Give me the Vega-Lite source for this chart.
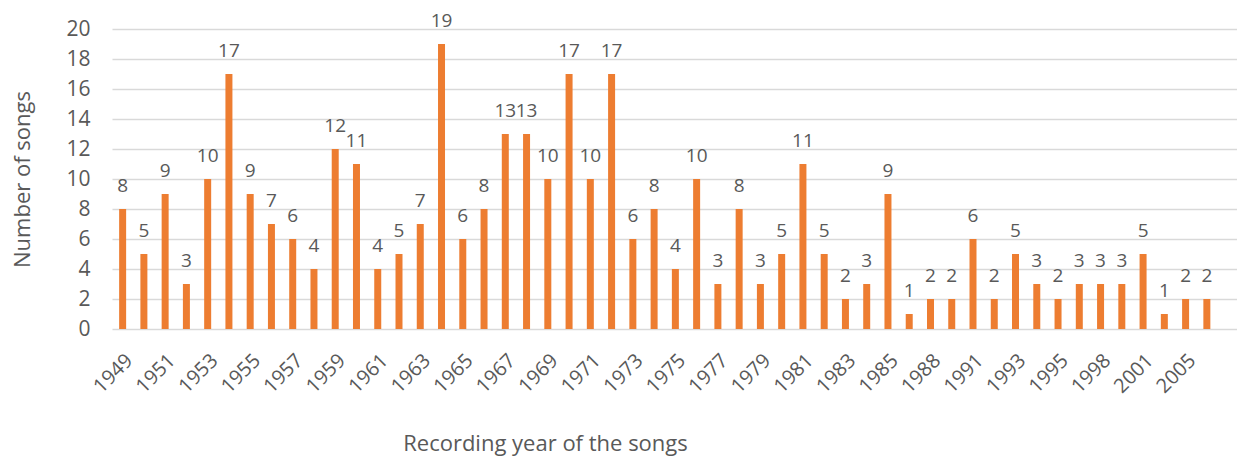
{
  "$schema": "https://vega.github.io/schema/vega-lite/v6.json",
  "autosize": {"type": "none"},
  "padding": {"left": 112, "top": 29, "right": 0, "bottom": 130},
  "width": 1125,
  "height": 300,
  "background": "white",
  "config": {"view": {"stroke": null}, "font": "Open Sans"},
  "data": {"values": [
    {"year": "1949", "songs": 8}, {"year": "1950", "songs": 5}, {"year": "1951", "songs": 9}, {"year": "1952", "songs": 3},
    {"year": "1953", "songs": 10}, {"year": "1954", "songs": 17}, {"year": "1955", "songs": 9}, {"year": "1956", "songs": 7},
    {"year": "1957", "songs": 6}, {"year": "1958", "songs": 4}, {"year": "1959", "songs": 12}, {"year": "1960", "songs": 11},
    {"year": "1961", "songs": 4}, {"year": "1962", "songs": 5}, {"year": "1963", "songs": 7}, {"year": "1964", "songs": 19},
    {"year": "1965", "songs": 6}, {"year": "1966", "songs": 8}, {"year": "1967", "songs": 13}, {"year": "1968", "songs": 13},
    {"year": "1969", "songs": 10}, {"year": "1970", "songs": 17}, {"year": "1971", "songs": 10}, {"year": "1972", "songs": 17},
    {"year": "1973", "songs": 6}, {"year": "1974", "songs": 8}, {"year": "1975", "songs": 4}, {"year": "1976", "songs": 10},
    {"year": "1977", "songs": 3}, {"year": "1978", "songs": 8}, {"year": "1979", "songs": 3}, {"year": "1980", "songs": 5},
    {"year": "1981", "songs": 11}, {"year": "1982", "songs": 5}, {"year": "1983", "songs": 2}, {"year": "1984", "songs": 3},
    {"year": "1985", "songs": 9}, {"year": "1987", "songs": 1}, {"year": "1988", "songs": 2}, {"year": "1989", "songs": 2},
    {"year": "1991", "songs": 6}, {"year": "1992", "songs": 2}, {"year": "1993", "songs": 5}, {"year": "1994", "songs": 3},
    {"year": "1995", "songs": 2}, {"year": "1996", "songs": 3}, {"year": "1998", "songs": 3}, {"year": "2000", "songs": 3},
    {"year": "2001", "songs": 5}, {"year": "2003", "songs": 1}, {"year": "2005", "songs": 2}, {"year": "2006", "songs": 2}
  ]},
  "encoding": {
    "x": {
      "field": "year", "type": "ordinal",
      "scale": {"paddingInner": 0, "paddingOuter": 0.459, "align": 0},
      "axis": {
        "values": ["1949","1951","1953","1955","1957","1959","1961","1963","1965","1967","1969","1971","1973","1975","1977","1979","1981","1983","1985","1988","1991","1993","1995","1998","2001","2005"],
        "labelAngle": -45, "labelAlign": "right", "labelBaseline": "top",
        "labelFontSize": 20, "labelColor": "#595959", "labelPadding": 21,
        "ticks": false, "domain": false, "grid": false,
        "title": "Recording year of the songs", "titleFontSize": 22, "titleFontWeight": "normal",
        "titleColor": "#595959", "titleX": 433, "titleY": 121, "titleAlign": "center", "titleBaseline": "alphabetic"
      }
    },
    "y": {
      "field": "songs", "type": "quantitative",
      "scale": {"domain": [0, 20], "nice": false},
      "axis": {
        "values": [0,2,4,6,8,10,12,14,16,18,20],
        "labelFontSize": 21, "labelColor": "#595959", "labelPadding": 22,
        "ticks": false, "domain": false, "gridColor": "#d9d9d9", "gridWidth": 1.3,
        "title": "Number of songs", "titleFontSize": 22, "titleFontWeight": "normal", "titleColor": "#595959",
        "titleX": -90, "titleY": 150, "titleAngle": -90, "titleAlign": "center", "titleBaseline": "middle"
      }
    }
  },
  "layer": [
    {"mark": {"type": "bar", "width": 7, "color": "#ED7D31"}},
    {"mark": {"type": "text", "dy": -17, "baseline": "alphabetic", "fontSize": 19, "color": "#595959"},
     "encoding": {"text": {"field": "songs", "type": "quantitative"}}}
  ]
}
